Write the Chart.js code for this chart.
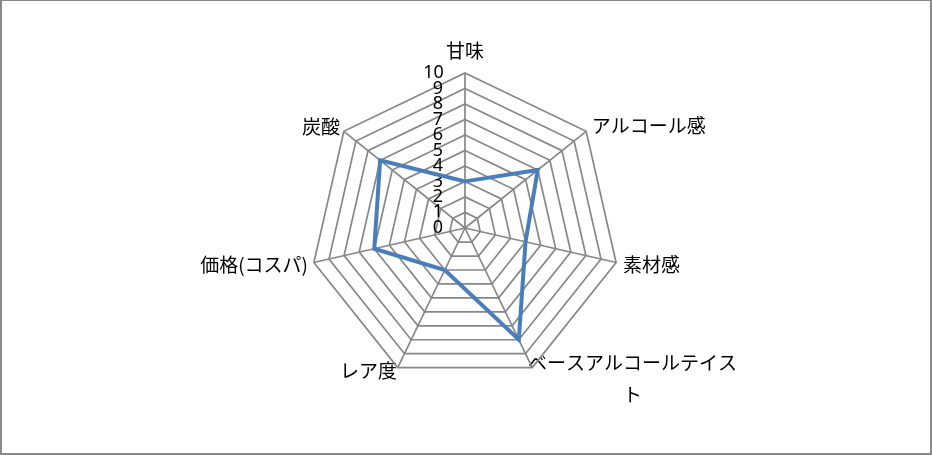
<!DOCTYPE html>
<html lang="ja">
<head>
<meta charset="utf-8">
<title>レーダーチャート</title>
<script src="https://cdn.jsdelivr.net/npm/chart.js@4.4.1/dist/chart.umd.min.js"></script>
<style>
  html, body { margin: 0; padding: 0; background: #fff; }
  #wrap { position: relative; width: 932px; height: 455px; }
  #frame {
    position: absolute; left: 0; top: 0; right: 0; bottom: 0;
    border: solid #898989; border-width: 1px 2px 2px 2px;
    box-sizing: border-box; pointer-events: none;
  }
</style>
</head>
<body>
<div id="wrap">
  <canvas id="radar"></canvas>
  <div id="frame"></div>
</div>
<script>
// ===============================
// データ
// ===============================
const categories = ["甘味", "アルコール感", "素材感", "ベースアルコールテイスト", "レア度", "価格(コスパ)", "炭酸"];
const scores = [3, 6, 4, 8, 3, 6, 7];
const scaleMax = 10;
const scaleStep = 1;

// ラベルごとの余白（位置合わせ用）
const labelPadding = [12, -2, -2, -19, -7, -3, -4];

const ctx = document.getElementById("radar").getContext("2d");

new Chart(ctx, {
  type: "radar",
  data: {
    labels: categories,
    datasets: [{
      data: scores,
      borderColor: "#4a7ebb",
      borderWidth: 4,
      fill: false,
      pointRadius: 0,
      pointHoverRadius: 0
    }]
  },
  options: {
    responsive: true,
    maintainAspectRatio: false,
    animation: false,
    layout: { padding: { top: 47, bottom: 52, left: 0, right: 2 } },
    plugins: {
      legend: { display: false },
      tooltip: { enabled: false }
    },
    scales: {
      r: {
        // 最小値を少しだけ負にして「0」の目盛りラベルも表示させる
        min: -0.01,
        max: scaleMax,
        ticks: {
          stepSize: scaleStep,
          color: "#000",
          font: { family: "Noto Sans", size: 18 },
          showLabelBackdrop: false,
          backdropPadding: 0,
          callback: value => {
            const s = String(Math.round(value));
            // 軸の左側に寄せるための空白
            return s + "\u2003\u2003\u2003" + (s.length > 1 ? "\u2002" : "");
          }
        },
        grid: { color: "#878787", lineWidth: 1.7 },
        angleLines: { color: "#878787", lineWidth: 1.7 },
        pointLabels: {
          color: "#000",
          padding: c => labelPadding[c.index],
          font: c => ({
            family: "'Noto Sans CJK JP', sans-serif",
            size: 19,
            lineHeight: c.index === 3 ? "8px" : "2px"
          }),
          callback: label => {
            if (label.length > 10) {
              // 長いラベルは折り返し（最後の1文字を2行目の中央へ）
              return [label.slice(0, -1), "", "", "", "\u3000\u3000\u3000\u3000\u3000" + label.slice(-1)];
            }
            return label;
          }
        }
      }
    }
  }
});
</script>
</body>
</html>
